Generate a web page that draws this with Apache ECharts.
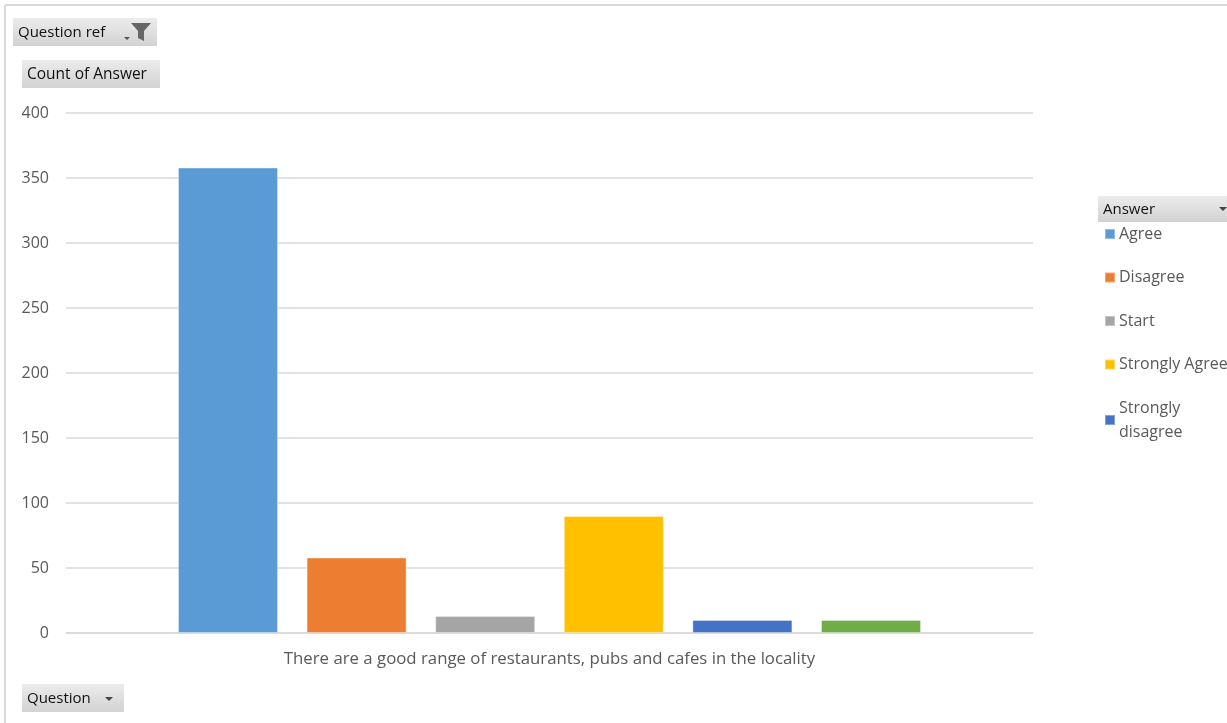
<!DOCTYPE html>
<html>
<head>
<meta charset="utf-8">
<script src="https://cdn.jsdelivr.net/npm/echarts@6/dist/echarts.min.js"></script>
<style>
html,body{margin:0;padding:0;background:#fff;}
#chart{width:1227px;height:723px;}
</style>
</head>
<body>
<div id="chart"></div>
<script>
var categories = ['There are a good range of restaurants, pubs and cafes in the locality'];
var seriesNames = ['Agree', 'Disagree', 'Start', 'Strongly Agree', 'Strongly disagree', 'Unsure'];
var seriesValues = [358, 58, 13, 90, 10, 10];
var legendNames = ['Agree', 'Disagree', 'Start', 'Strongly Agree', 'Strongly disagree'];
var yTicks = {min: 0, max: 400, interval: 50};
var colors = ['#5B9BD5', '#ED7D31', '#A5A5A5', '#FFC000', '#4472C4', '#70AD47'];

var FONT = 'Open Sans';
var btnFill = new echarts.graphic.LinearGradient(0, 0, 0, 1, [
  {offset: 0, color: '#ececec'}, {offset: 1, color: '#d2d2d2'}
]);

function button(x, y, w, h, label, size) {
  return [
    {type: 'rect', shape: {x: x, y: y, width: w, height: h}, style: {fill: btnFill}, silent: true},
    {type: 'text', x: x + 5, y: y + h / 2 + 1, style: {text: label, fill: '#111', font: (size || 15) + 'px "' + FONT + '"', verticalAlign: 'middle'}, silent: true}
  ];
}

var graphics = [];
graphics.push({type: 'line', shape: {x1: 5, y1: 5, x2: 1227, y2: 5}, style: {stroke: '#d9d9d9', lineWidth: 2}, silent: true});
graphics.push({type: 'line', shape: {x1: 5, y1: 5, x2: 5, y2: 723}, style: {stroke: '#d9d9d9', lineWidth: 2}, silent: true});
graphics = graphics.concat(button(13, 18, 144, 28, 'Question ref'));
graphics.push({type: 'polygon', shape: {points: [[124, 37], [130, 37], [127, 40]]}, style: {fill: '#555'}, silent: true});
graphics.push({type: 'polygon', shape: {points: [[131, 23], [151, 23], [144, 31], [144, 41], [138, 38], [138, 31]]}, style: {fill: '#666'}, silent: true});
graphics = graphics.concat(button(22, 60, 138, 28, 'Count of Answer', 15.5));
graphics = graphics.concat(button(22, 684, 102, 28, 'Question'));
graphics.push({type: 'polygon', shape: {points: [[105, 697], [113, 697], [109, 701]]}, style: {fill: '#444'}, silent: true});
graphics = graphics.concat(button(1098, 196, 140, 26, 'Answer'));
graphics.push({type: 'polygon', shape: {points: [[1219, 207], [1227, 207], [1223, 211]]}, style: {fill: '#444'}, silent: true});

var series = seriesNames.map(function (name, i) {
  return {
    name: name,
    type: 'bar',
    data: [seriesValues[i]],
    barWidth: 100,
    barGap: '28.6%',
    itemStyle: {color: colors[i], borderColor: 'rgba(255,255,255,0.35)', borderWidth: 1},
    emphasis: {disabled: true},
    animation: false
  };
});

var chart = echarts.init(document.getElementById('chart'), null, {renderer: 'canvas'});
chart.setOption({
  animation: false,
  color: colors,
  textStyle: {fontFamily: FONT},
  grid: {left: 66, right: 194, top: 113, bottom: 90, containLabel: false},
  legend: {
    data: legendNames,
    orient: 'vertical',
    left: 1104,
    top: 222,
    padding: 0,
    icon: 'rect',
    itemWidth: 10,
    itemHeight: 10,
    itemGap: 19.5,
    selectedMode: false,
    textStyle: {color: '#595959', fontSize: 16, fontFamily: FONT, lineHeight: 24, padding: [0, 0, 0, -1]},
    formatter: function (n) { return n === 'Strongly disagree' ? 'Strongly\ndisagree' : n; }
  },
  xAxis: {
    type: 'category',
    data: categories,
    axisLine: {lineStyle: {color: '#d9d9d9', width: 1.5}},
    axisTick: {show: false},
    axisLabel: {color: '#595959', fontSize: 16.8, margin: 18, fontFamily: FONT}
  },
  yAxis: {
    type: 'value',
    min: yTicks.min,
    max: yTicks.max,
    interval: yTicks.interval,
    axisLine: {show: false},
    axisTick: {show: false},
    axisLabel: {color: '#595959', fontSize: 16, margin: 17, fontFamily: FONT},
    splitLine: {lineStyle: {color: '#d9d9d9', width: 1.5}}
  },
  graphic: graphics,
  series: series
});
</script>
</body>
</html>
